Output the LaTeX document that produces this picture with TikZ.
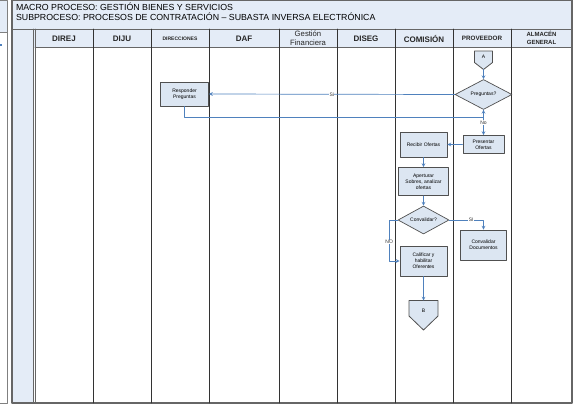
\documentclass[tikz,border=0pt]{standalone}
\usepackage{fontspec}
\setmainfont{Liberation Sans}
\usetikzlibrary{shapes.geometric}
\definecolor{hdrfill}{HTML}{E4ECF7}
\definecolor{boxfill}{HTML}{DCE6F2}
\definecolor{boxline}{HTML}{505050}
\definecolor{flow}{HTML}{4F81BD}
\tikzset{
  lanebox/.style={draw=boxline, fill=boxfill, line width=.9pt, align=center, inner sep=1pt, font=\fontsize{5}{6}\selectfont},
  decision/.style={diamond, draw=boxline, fill=boxfill, line width=.7pt, aspect=1.9, inner sep=0pt, font=\fontsize{5}{6}\selectfont},
  offpage/.style={draw=boxline, fill=boxfill, line width=.8pt},
  flowline/.style={draw=flow, line width=.7pt},
  flowlabel/.style={fill=white, inner sep=.4pt, text=black!80, font=\fontsize{5}{6}\selectfont},
  lanehead/.style={align=center, text=black!85, font=\bfseries\fontsize{8}{9}\selectfont}
}
\begin{document}
\begin{tikzpicture}[x=1pt, y=-1pt, line cap=round, line join=round, >=stealth]
\useasboundingbox (0,0) rectangle (575,405);
% edge of the previous sheet
\fill[hdrfill] (-1,0) rectangle (7,32);
\draw[gray, line width=.8pt] (-1,0)--(7,0)--(7,403)--(-1,403) (-1,32)--(7,32);
\fill[flow] (0,44.3) rectangle (1.6,45.7);
% frame and header
\fill[hdrfill] (12,0) rectangle (572,47) (12,29) rectangle (34,403);
\draw[gray!80!black, line width=1.1pt] (12,0) rectangle (572,403);
\draw[gray!80!black, line width=.7pt] (12,29)--(572,29) (35,47)--(572,47) (33,29)--(33,403) (35.3,29)--(35.3,403);
\foreach \x in {93,151,209,279,337,395,453,511}
  \draw[black!80, line width=.8pt] (\x,29)--(\x,403);
\node[anchor=west, font=\fontsize{8.8}{10}\selectfont] (macro) at (12.5,7) {MACRO PROCESO: GESTIÓN BIENES Y SERVICIOS};
\node[anchor=west, font=\fontsize{8.8}{10}\selectfont] (subp) at (12.5,16.5) {SUBPROCESO: PROCESOS DE CONTRATACIÓN – SUBASTA INVERSA ELECTRÓNICA};
% lane titles
\node[lanehead] (direj) at (64,38.5) {DIREJ};
\node[lanehead] (diju) at (122,38.5) {DIJU};
\node[lanehead, font=\bfseries\fontsize{5}{6}\selectfont] (direc) at (180,38.5) {DIRECCIONES};
\node[lanehead] (daf) at (244,38.5) {DAF};
\node[lanehead, font=\fontsize{7.7}{9.5}\selectfont] (gfin) at (308,38) {Gestión\\Financiera};
\node[lanehead] (diseg) at (366,38.5) {DISEG};
\node[lanehead] (comis) at (424,38.5) {COMISIÓN};
\node[lanehead, font=\bfseries\fontsize{6.3}{7}\selectfont] (prov) at (482,38.5) {PROVEEDOR};
\node[lanehead, font=\bfseries\fontsize{6}{8}\selectfont] (almac) at (541.5,37.5) {ALMACÉN\\GENERAL};
% off-page connectors
\draw[offpage] (474.5,51)--(492.5,51)--(492.5,62.5)--(483.5,69.5)--(474.5,62.5)--cycle;
\node[font=\fontsize{5}{6}\selectfont] (offA) at (483.5,57) {A};
\coordinate (tipA) at (483.5,69.5);
\draw[offpage] (409,300.5)--(438,300.5)--(438,316)--(423.5,330)--(409,316)--cycle;
\node[font=\fontsize{5}{6}\selectfont] (offB) at (423.5,311) {B};
\coordinate (topB) at (423.5,300.5);
% steps
\node[lanebox, minimum width=48pt, minimum height=24pt] (resp) at (184.5,94) {Responder\\Preguntas};
\node[decision, minimum width=57pt, minimum height=30pt] (preg) at (483.5,94.5) {Preguntas?};
\node[lanebox, minimum width=41pt, minimum height=18pt] (pres) at (483.5,144.5) {Presentar\\Ofertas};
\node[lanebox, minimum width=47pt, minimum height=25pt] (recib) at (423.5,144.5) {Recibir Ofertas};
\node[lanebox, minimum width=50pt, minimum height=28pt] (apert) at (423.5,181.5) {Aperturar\\Sobres, analizar\\ofertas};
\node[decision, minimum width=51pt, minimum height=28pt] (conv) at (423.5,220) {Convalidar?};
\node[lanebox, minimum width=46pt, minimum height=30pt] (cdoc) at (483.5,245) {Convalidar\\Documentos};
\node[lanebox, minimum width=47pt, minimum height=30pt] (calif) at (423.5,261) {Calificar y\\habilitar\\Oferentes};
% connectors
\draw[flowline,->] (tipA)--(preg.north);
\draw[flowline,->] (preg.west)--node[flowlabel]{Si}(resp.east);
\draw[flowline,->] (resp.south)--++(0,10.7)-|(preg.south);
\draw[flowline,->] (preg.south)--node[flowlabel]{No}(pres.north);
\draw[flowline,->] (pres.west)--(recib.east);
\draw[flowline,->] (recib)--(apert);
\draw[flowline,->] (apert)--(conv);
\draw[flowline,->] (conv.east)-|node[flowlabel,pos=.32]{SI}(cdoc.north);
\draw[flowline,->] (conv.west)--++(-8.5,0)|-node[flowlabel,pos=.27]{NO}(calif.west);
\draw[flowline,->] (calif)--(topB);
\end{tikzpicture}
\end{document}
